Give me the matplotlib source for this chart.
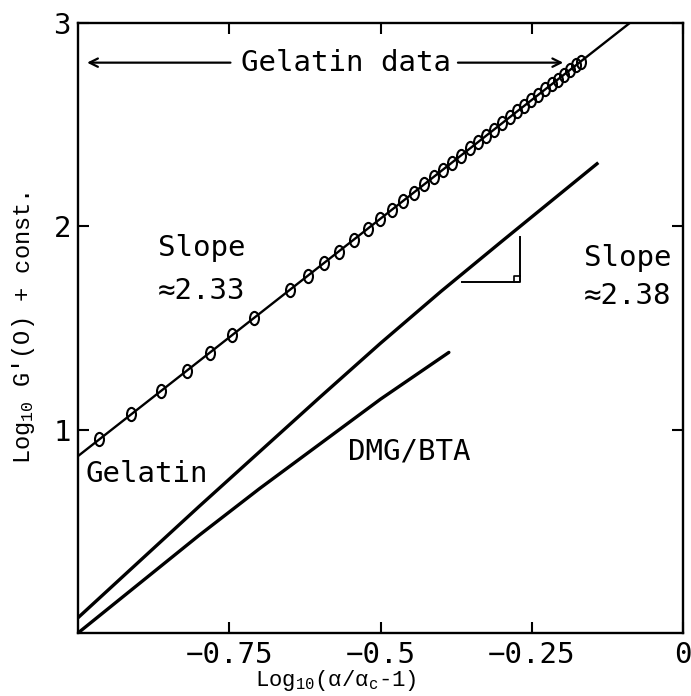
import matplotlib
matplotlib.use("Agg")
import matplotlib.pyplot as plt
from matplotlib.path import Path
from matplotlib.transforms import Affine2D

# ---------------- data ----------------
gel_x = [-0.965, -0.912, -0.863, -0.820, -0.782, -0.745, -0.709,
         -0.650, -0.620, -0.593, -0.569, -0.544, -0.521, -0.501, -0.481,
         -0.463, -0.445, -0.428, -0.412, -0.397, -0.382, -0.367, -0.352,
         -0.339, -0.326, -0.312, -0.299, -0.286, -0.274, -0.263, -0.251,
         -0.240, -0.228, -0.217, -0.207, -0.197, -0.187, -0.177, -0.169]
gel_y = [0.952, 1.075, 1.190, 1.290, 1.379, 1.465, 1.549,
         1.687, 1.757, 1.820, 1.876, 1.935, 1.988, 2.035, 2.082,
         2.124, 2.166, 2.206, 2.243, 2.278, 2.313, 2.348, 2.383,
         2.413, 2.444, 2.476, 2.507, 2.537, 2.565, 2.591, 2.619,
         2.645, 2.673, 2.698, 2.722, 2.745, 2.768, 2.792, 2.810]

gel_fit_x = [-1.0, -0.088]
gel_fit_y = [0.87, 3.0]

mid_x = [-1.0, -0.8, -0.6, -0.5, -0.4, -0.3, -0.14]
mid_y = [0.075, 0.622, 1.160, 1.425, 1.680, 1.925, 2.313]

dmg_x = [-1.0, -0.8, -0.7, -0.6, -0.5, -0.387]
dmg_y = [0.0, 0.48, 0.71, 0.93, 1.15, 1.38]

tri_x = [-0.366, -0.269, -0.269]
tri_y = [1.727, 1.727, 1.948]

xticks = [-0.75, -0.5, -0.25, 0.0]
xticklabels = ["\u22120.75", "\u22120.5", "\u22120.25", "0"]
yticks = [1, 2, 3]
yticklabels = ["1", "2", "3"]

# ---------------- figure ----------------
plt.rcParams['mathtext.fontset'] = 'custom'
plt.rcParams['mathtext.rm'] = 'Liberation Mono'
plt.rcParams['mathtext.it'] = 'Liberation Mono'

fig = plt.figure(figsize=(6.91, 6.96), dpi=100)
ax = fig.add_axes([78/691, 63/696, 605/691, 610/696])

ax.set_xlim(-1.0, 0.0)
ax.set_ylim(0.0, 3.0)

ell = Path.unit_circle().transformed(Affine2D().scale(0.68, 1.0))

ax.plot(gel_fit_x, gel_fit_y, color='black', lw=1.7, solid_capstyle='butt')
ax.plot(gel_x, gel_y, linestyle='none', marker=ell, markersize=9.5,
        markerfacecolor='none', markeredgecolor='black', markeredgewidth=1.5)
ax.plot(mid_x, mid_y, color='black', lw=2.4, solid_capstyle='butt')
ax.plot(dmg_x, dmg_y, color='black', lw=2.4, solid_capstyle='round')
ax.plot(tri_x, tri_y, color='black', lw=1.4)
ax.plot([-0.279, -0.279, -0.269], [1.727, 1.757, 1.757], color='black', lw=1.2)

tfont = dict(family='DejaVu Sans Mono', fontsize=21, color='black')
ax.text(-0.868, 1.894, "Slope", ha='left', va='center', **tfont)
ax.text(-0.868, 1.682, "\u22482.33", ha='left', va='center', **tfont)
ax.text(-0.164, 1.845, "Slope", ha='left', va='center', **tfont)
ax.text(-0.164, 1.658, "\u22482.38", ha='left', va='center', **tfont)
ax.text(-0.987, 0.782, "Gelatin", ha='left', va='center', **tfont)
ax.text(-0.554, 0.895, "DMG/BTA", ha='left', va='center', **tfont)
ax.text(-0.557, 2.805, "Gelatin data", ha='center', va='center', **tfont)

arrowprops = dict(arrowstyle='->,head_length=0.6,head_width=0.3', color='black',
                  lw=1.6, shrinkA=0, shrinkB=0)
ax.annotate("", xy=(-0.985, 2.805), xytext=(-0.748, 2.805), arrowprops=arrowprops)
ax.annotate("", xy=(-0.198, 2.805), xytext=(-0.372, 2.805), arrowprops=arrowprops)

ax.set_xticks(xticks)
ax.set_xticklabels(xticklabels, family='DejaVu Sans Mono', fontsize=21)
ax.set_yticks(yticks)
ax.set_yticklabels(yticklabels, family='DejaVu Sans Mono', fontsize=21)
ax.tick_params(direction='in', length=8, width=1.5, top=True, right=True,
               pad=6, colors='black')
ax.tick_params(axis='y', pad=5)

for s in ax.spines.values():
    s.set_linewidth(1.7)

ax.set_ylabel("Log$_{10}$ G'(O) + const.", family='Liberation Mono', fontsize=17)
ax.yaxis.set_label_coords(-0.068, 0.5)
ax.set_xlabel("Log$_{10}$(\u03b1/\u03b1$_{c}$-1)", family='Liberation Mono', fontsize=16)
ax.xaxis.set_label_coords(0.426, -0.058)

fig.savefig("out.png", dpi=100)
